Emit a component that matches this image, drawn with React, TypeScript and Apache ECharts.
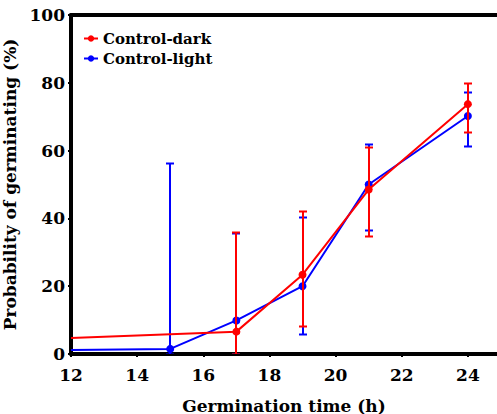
import React, { useEffect, useRef } from "react";
import * as echarts from "echarts";

const lightTimes = [12, 15, 17, 19, 21, 24];
const lightMean = [1.2, 1.5, 9.9, 20.0, 50.0, 70.2];
const lightUpper = [null, 56.2, 35.7, 40.3, 61.8, 77.3];
const lightLower = [null, 0, 0, 5.8, 36.7, 61.3];

const darkTimes = [12, 17, 19, 21, 24];
const darkMean = [4.7, 6.6, 23.4, 48.5, 73.7];
const darkUpper = [null, 36.1, 42.3, 61.0, 79.9];
const darkLower = [null, 0, 8.4, 34.9, 65.5];

const RED = "#ff0000";
const BLUE = "#0000ff";
const FONT = "DejaVu Serif";

function lineData(times: number[], mean: number[]) {
  return times.map((t, i) =>
    i === 0 ? { value: [t, mean[i]], symbol: "none" } : { value: [t, mean[i]] }
  );
}

function errData(times: number[], lo: (number | null)[], hi: (number | null)[]) {
  const out: number[][] = [];
  times.forEach((t, i) => {
    if (lo[i] !== null && hi[i] !== null) out.push([t, lo[i] as number, hi[i] as number]);
  });
  return out;
}

function errSeries(name: string, color: string, data: number[][]) {
  return {
    type: "custom",
    name: name + "-err",
    data,
    clip: true,
    silent: true,
    encode: { x: 0, y: [1, 2] },
    renderItem: (params: any, api: any) => {
      const xv = api.value(0);
      const lo = api.coord([xv, api.value(1)]);
      const hi = api.coord([xv, api.value(2)]);
      const x = Math.round(lo[0]);
      const y1 = Math.round(lo[1]) + 0.5;
      const y2 = Math.round(hi[1]) + 0.5;
      const w = 4;
      const style = { stroke: color, lineWidth: 2, opacity: 1 };
      return {
        type: "group",
        children: [
          { type: "line", shape: { x1: x, y1, x2: x, y2 }, style },
          { type: "line", shape: { x1: x - w, y1: y2, x2: x + w, y2 }, style },
          { type: "line", shape: { x1: x - w, y1, x2: x + w, y2: y1 }, style },
        ],
      };
    },
  };
}

export default function App() {
  const ref = useRef<HTMLDivElement>(null);
  useEffect(() => {
    if (!ref.current) return;
    const chart = echarts.init(ref.current, null, { renderer: "svg" });
    const axisLabel = { color: "#000", fontFamily: FONT, fontWeight: "bold", fontSize: 17 };
    chart.setOption({
      animation: false,
      grid: { left: 71, right: 0, top: 15, bottom: 60, containLabel: false, outerBoundsMode: "none" },
      legend: {
        left: 78,
        top: 26,
        orient: "vertical",
        itemWidth: 14,
        itemHeight: 8,
        itemGap: 5,
        data: ["Control-dark", "Control-light"],
        textStyle: { color: "#000", fontFamily: FONT, fontWeight: "bold", fontSize: 15 },
      },
      xAxis: [
        {
          type: "value",
          min: 12,
          max: 24.88,
          interval: 2,
          name: "Germination time (h)",
          nameLocation: "middle",
          nameGap: 43,
          nameTextStyle: { color: "#000", fontFamily: FONT, fontWeight: "bold", fontSize: 17 },
          axisLine: { lineStyle: { color: "#000", width: 4 } },
          axisTick: { show: true, length: 3, lineStyle: { color: "#000", width: 2 } },
          axisLabel: { ...axisLabel, margin: 12, showMaxLabel: false },
          splitLine: { show: false },
        },
        {
          type: "value",
          position: "top",
          min: 12,
          max: 24.88,
          axisLine: { show: true, lineStyle: { color: "#000", width: 4 } },
          axisTick: { show: false },
          axisLabel: { show: false },
          splitLine: { show: false },
        },
      ],
      yAxis: {
        type: "value",
        min: 0,
        max: 100,
        interval: 20,
        name: "Probability of germinating (%)",
        nameLocation: "middle",
        nameGap: 52,
        nameTextStyle: { color: "#000", fontFamily: FONT, fontWeight: "bold", fontSize: 17 },
        axisLine: { show: true, lineStyle: { color: "#000", width: 4 } },
        axisTick: { show: true, length: 3, lineStyle: { color: "#000", width: 2 } },
        axisLabel: { ...axisLabel, margin: 6 },
        splitLine: { show: false },
      },
      series: [
        {
          type: "line",
          name: "Control-light",
          data: lineData(lightTimes, lightMean),
          symbol: "circle",
          symbolSize: 8,
          lineStyle: { color: BLUE, width: 2 },
          itemStyle: { color: BLUE },
          z: 2,
        },
        { ...errSeries("Control-light", BLUE, errData(lightTimes, lightLower, lightUpper)), z: 2 },
        {
          type: "line",
          name: "Control-dark",
          data: lineData(darkTimes, darkMean),
          symbol: "circle",
          symbolSize: 8,
          lineStyle: { color: RED, width: 2 },
          itemStyle: { color: RED },
          z: 3,
        },
        { ...errSeries("Control-dark", RED, errData(darkTimes, darkLower, darkUpper)), z: 3 },
      ],
    });
    return () => chart.dispose();
  }, []);
  return <div ref={ref} style={{ width: 497, height: 414, position: "absolute", left: 0, top: 0 }} />;
}
